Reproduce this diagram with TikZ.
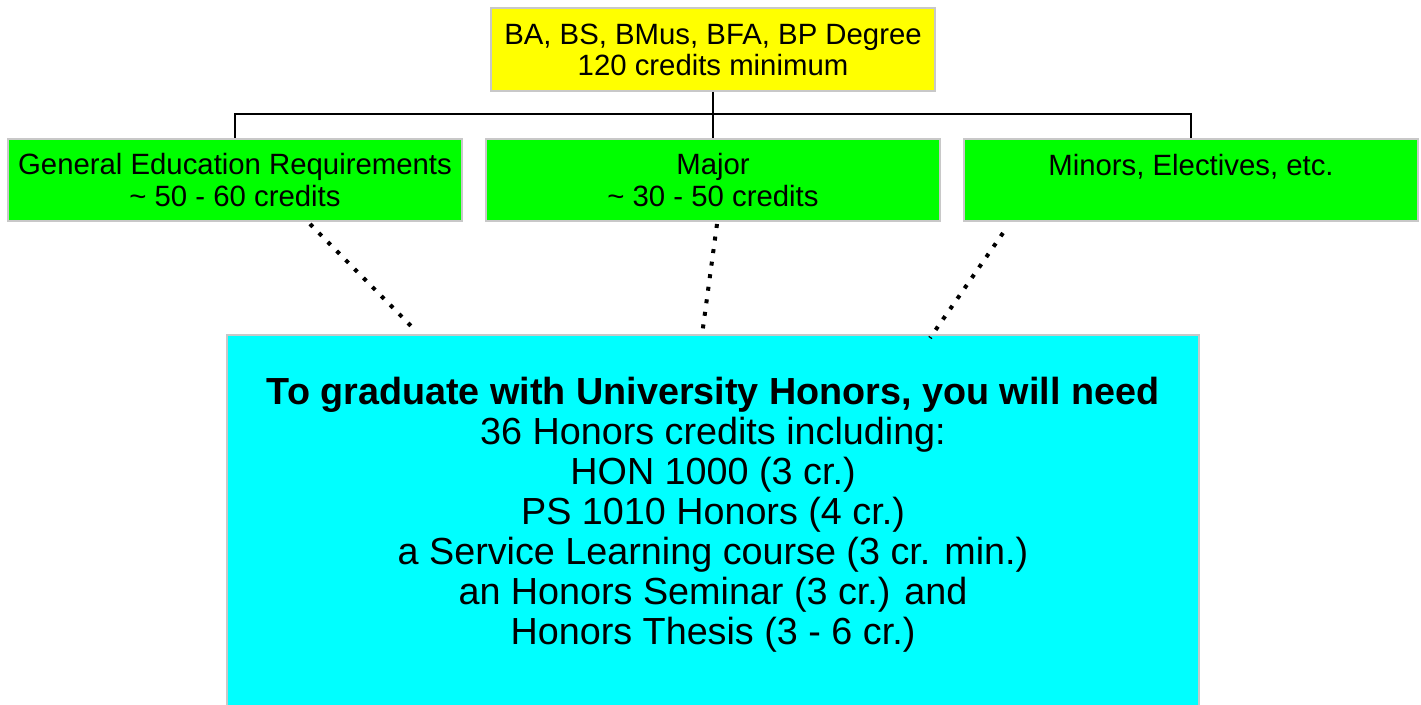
\documentclass[tikz,border=0pt]{standalone}
\usepackage{fontspec}
\setmainfont{Liberation Sans}
\usetikzlibrary{positioning,calc}

\definecolor{boxgray}{RGB}{200,200,200}
\definecolor{degreeyellow}{RGB}{255,255,0}
\definecolor{partgreen}{RGB}{0,255,0}
\definecolor{honorcyan}{RGB}{0,255,255}

\begin{document}
\begin{tikzpicture}[x=0.75pt,y=-0.75pt]
		\tikzstyle{box}=[rectangle, draw=boxgray, line width=1.5pt, align=center, inner sep=0pt]
		\tikzstyle{top}=[box, fill=degreeyellow, minimum width=333pt, minimum height=62.25pt, font=\fontsize{22}{23.3}\selectfont]
		\tikzstyle{part}=[box, fill=partgreen, minimum width=340.5pt, minimum height=61.5pt, font=\fontsize{22}{23.3}\selectfont]
		\tikzstyle{honor}=[box, fill=honorcyan, minimum width=729pt, minimum height=300pt, font=\fontsize{28.3}{30}\selectfont]
		\tikzstyle{connect}=[line width=1.2pt]
		\tikzstyle{dots}=[line width=3pt, dash pattern=on 3pt off 6.5pt]
		\useasboundingbox (0,0) rectangle (1421,705);
		
		\node[top] (degree) at (713,49.5) {BA, BS, BMus, BFA, BP Degree\\120 credits minimum};
		
		\node[part] (major) [below=34.5pt of degree] {Major\\\textasciitilde\ 30 - 50 credits};
		\node[part] (gened) [left=16.5pt of major] {General Education Requirements\\\textasciitilde\ 50 - 60 credits};
		\node[part] (minors) [right=16.5pt of major] {Minors, Electives, etc.\\\mbox{}};
		
		\node[honor] (honors) [below=84pt of major] {\textbf{To graduate with University Honors, you will need}\\
			36 Honors credits including:\\
			HON 1000 (3 cr.)\\
			PS 1010 Honors (4 cr.)\\
			a Service Learning course (3 cr. min.)\\
			an Honors Seminar (3 cr.) and\\
			Honors Thesis (3 - 6 cr.)\\[6pt]
			\mbox{}};
		
		\draw[connect] (degree.south) -- ++(0,22) coordinate (bus);
		\draw[connect] (gened.north) |- (bus) -| (minors.north);
		\draw[connect] (bus) -- (major.north);
		
		\draw[dots] ($(gened.south)+(75,2)$) -- ($(honors.north)+(-301,-7)$);
		\draw[dots] ($(major.south)+(4,2)$) -- ($(honors.north)+(-11,1)$);
		\draw[dots] ($(minors.south)+(-188,11)$) -- ($(honors.north)+(217,4)$);
	\end{tikzpicture}
\end{document}
